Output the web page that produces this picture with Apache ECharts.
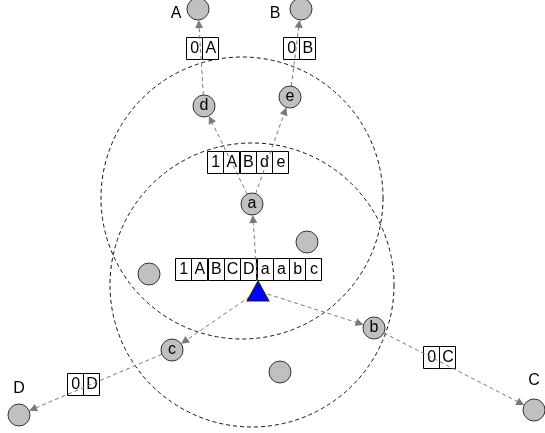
<!DOCTYPE html>
<html>
<head>
<meta charset="utf-8">
<script src="https://cdn.jsdelivr.net/npm/echarts@6/dist/echarts.min.js"></script>
<style>
  html, body { margin: 0; padding: 0; background: #fff; }
  #chart { width: 545px; height: 433px; }
</style>
</head>
<body>
<div id="chart"></div>
<script>
// nodes (centre positions in plot units)
const nodeNames = ['A', 'B', 'd', 'e', 'a', '', '', '', 'b', 'c', 'D', 'C'];
const nodeX = [198, 301, 204, 290, 252, 307, 149, 280, 374, 172, 19, 534];
const nodeY = [9, 9, 106, 97, 204, 242, 274, 372, 328, 350, 415, 410];

// the blue source marker
const sourcePoint = [258, 291];

// dashed arrows
const edgeFrom = ['src', 'src', 'src', 'a', 'a', 'd', 'e', 'b', 'c'];
const edgeTo = ['a', 'b', 'c', 'd', 'e', 'A', 'B', 'C', 'D'];

// dashed range circles
const circleX = [242, 252];
const circleY = [198, 285];
const circleR = [141, 142];

// tables of cells
const boxCells = [
  ['0', 'A'],
  ['0', 'B'],
  ['1', 'A', 'B', 'd', 'e'],
  ['1', 'A', 'B', 'C', 'D', 'a', 'a', 'b', 'c'],
  ['0', 'D'],
  ['0', 'C'],
];
const boxX = [186, 283, 207, 175, 67, 423];
const boxY = [37, 37, 151, 258, 373, 346];

const NODE_R = 11;
const SRC_R = 10;
const ARROW = 8;
const CELL_W = 16.3;
const CELL_H = 22;

const chart = echarts.init(document.getElementById('chart'));

function pos(name) {
  if (name === 'src') return sourcePoint;
  const i = nodeNames.indexOf(name);
  return [nodeX[i], nodeY[i]];
}

const lineData = edgeFrom.map((f, i) => {
  const p = pos(f);
  const q = pos(edgeTo[i]);
  const dx = q[0] - p[0];
  const dy = q[1] - p[1];
  const len = Math.sqrt(dx * dx + dy * dy);
  const s = f === 'src' ? SRC_R : NODE_R;
  const e = NODE_R + ARROW / 2;
  return {
    coords: [
      [p[0] + dx * s / len, p[1] + dy * s / len],
      [q[0] - dx * e / len, q[1] - dy * e / len],
    ],
  };
});

const outerLabel = {
  A: { position: 'left', distance: 5, offset: [0, 5] },
  B: { position: 'left', distance: 9, offset: [0, 5] },
  C: { position: 'top', distance: 10 },
  D: { position: 'top', distance: 7 },
};

const nodeData = nodeNames.map((n, i) => {
  const item = { name: n, value: [nodeX[i], nodeY[i]] };
  if (outerLabel[n]) {
    item.label = Object.assign({ show: true, fontSize: 16 }, outerLabel[n]);
  }
  return item;
});

const option = {
  animation: false,
  grid: { left: 0, right: 0, top: 0, bottom: 0 },
  xAxis: { type: 'value', min: 0, max: 545, show: false },
  yAxis: { type: 'value', min: 0, max: 433, inverse: true, show: false },
  series: [
    {
      type: 'custom',
      z: 1,
      data: circleX.map((x, i) => [x, circleY[i], circleR[i]]),
      renderItem: function (params, api) {
        const c = api.coord([api.value(0), api.value(1)]);
        const r = api.size([api.value(2), 0])[0];
        return {
          type: 'circle',
          shape: { cx: c[0], cy: c[1], r: r },
          style: { fill: 'none', stroke: '#111', lineWidth: 1, lineDash: [4, 3] },
        };
      },
    },
    {
      type: 'custom',
      z: 2,
      data: boxX.map((x, i) => [x, boxY[i], i]),
      renderItem: function (params, api) {
        const p = api.coord([api.value(0), api.value(1)]);
        const sz = api.size([CELL_W, CELL_H]);
        const cells = boxCells[api.value(2)];
        const children = [];
        cells.forEach((t, k) => {
          const x0 = p[0] + k * sz[0];
          children.push({
            type: 'rect',
            shape: { x: Math.round(x0) + 0.5, y: Math.round(p[1]) + 0.5, width: Math.round(sz[0]), height: sz[1] },
            style: { fill: '#fff', stroke: '#000', lineWidth: 1 },
          });
          children.push({
            type: 'text',
            style: {
              text: t,
              x: x0 + sz[0] / 2 + 0.5,
              y: p[1] + sz[1] / 2 + 1,
              align: 'center',
              verticalAlign: 'middle',
              fontSize: 16,
              fontFamily: 'Liberation Sans, Arial, sans-serif',
              fill: '#000',
            },
          });
        });
        return { type: 'group', children: children };
      },
    },
    {
      type: 'lines',
      coordinateSystem: 'cartesian2d',
      z: 3,
      symbol: ['none', 'triangle'],
      symbolSize: ARROW,
      itemStyle: { color: '#6e6e6e' },
      lineStyle: { color: '#7a7a7a', width: 1, type: [4, 3], opacity: 1 },
      data: lineData,
    },
    {
      type: 'scatter',
      z: 4,
      symbol: 'circle',
      symbolSize: NODE_R * 2,
      itemStyle: { color: '#c0c0c0', borderColor: '#333', borderWidth: 1, opacity: 1 },
      label: {
        show: true,
        position: 'inside',
        formatter: '{b}',
        color: '#000',
        fontSize: 16,
        fontFamily: 'Liberation Sans, Arial, sans-serif',
      },
      emphasis: { disabled: true },
      data: nodeData,
    },
    {
      type: 'scatter',
      z: 4,
      symbol: 'triangle',
      symbolSize: [22, 20],
      itemStyle: { color: '#0000ff', borderColor: '#222', borderWidth: 1, opacity: 1 },
      emphasis: { disabled: true },
      data: [sourcePoint],
    },
  ],
};

chart.setOption(option);
window.addEventListener('resize', () => chart.resize());
</script>
</body>
</html>
